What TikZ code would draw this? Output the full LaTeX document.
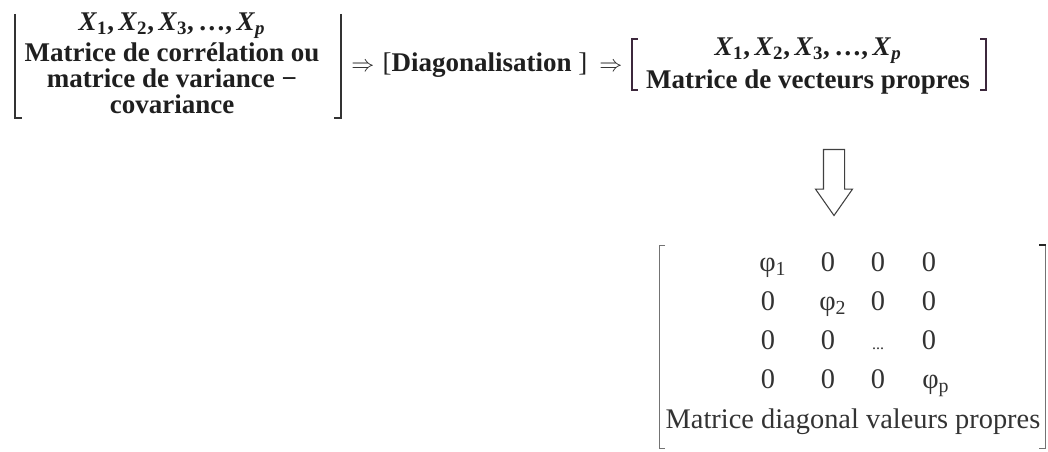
\documentclass[tikz,border=0pt]{standalone}
\usepackage{fontspec}
\setmainfont{Liberation Serif}
\usetikzlibrary{shapes.arrows}
\definecolor{brkcol}{RGB}{60,40,60}
\newcommand\xv[1]{\textit{X}\textsubscript{#1}}
\newcommand\xline{\xv{1},\,\xv{2},\,\xv{3},\,\dots,\,\xv{\itshape p}}
\begin{document}
\begin{tikzpicture}[x=0.75pt,y=-0.75pt,
  txt/.style={font=\fontsize{20.25}{19.5}\selectfont\bfseries, text=black!88, inner sep=0pt, align=center},
  op/.style={font=\fontsize{16}{16}\selectfont, text=black!85, inner sep=0pt},
  mtx/.style={font=\fontsize{21.3}{24}\selectfont, text=black!80, inner sep=0pt, anchor=base},
  phi/.style={font=\fontsize{21.3}{24}\selectfont, text=black!80, inner sep=0pt, anchor=base west},
  brk/.style={draw=black!80, line width=0.9pt},
  lbrk/.style={draw=black!55, line width=0.7pt},
  hollow/.style={draw=black!75, line width=0.8pt, fill=white, single arrow,
     minimum height=49.5pt, minimum width=27pt, inner sep=7.5pt,
     single arrow head extend=6pt, single arrow tip angle=70, shape border rotate=270}]
\useasboundingbox (0,0) rectangle (1048,452);

% ---- left group
\node[txt] (L) at (172,63) {\xline\\[2pt]
  Matrice de corrélation ou\\ matrice de variance −\\ covariance};
\draw[brk] (15,14) -- (15,118) -- (22,118);
\draw[brk] (341,14) -- (341,118) -- (334,118);

% ---- operators
\node[op] (a1) at (363,67) {$\Rightarrow$};
\node[txt, anchor=center] (D) at (485,65) {{\mdseries[}Diagonalisation {\mdseries]}};
\node[op] (a2) at (611,67) {$\Rightarrow$};

% ---- right group
\node[txt] (R) at (808,66) {\xline\\[4pt]
  Matrice de vecteurs propres};
\draw[brk, draw=brkcol] (638,39) -- (632,39) -- (632,90) -- (638,90);
\draw[brk, draw=brkcol] (980,39) -- (986,39) -- (986,90) -- (980,90);

% ---- hollow arrow
\node[hollow] (down) at (834,175) {};

% ---- diagonal matrix
\draw[lbrk] (665,245) -- (659,245) -- (659,448) -- (665,448);
\draw[lbrk] (1039,245) -- (1045,245) -- (1045,448) -- (1039,448);
\draw[draw=black!85, line width=1.6pt] (1039,245) -- (1046,245);

\node[phi] (m11) at (759,271) {φ\textsubscript{1}};
\node[mtx] (m12) at (828,271) {0};
\node[mtx] (m13) at (878,271) {0};
\node[mtx] (m14) at (929,271) {0};

\node[mtx] (m21) at (768,310) {0};
\node[phi] (m22) at (819,310) {φ\textsubscript{2}};
\node[mtx] (m23) at (878,310) {0};
\node[mtx] (m24) at (929,310) {0};

\node[mtx] (m31) at (768,349) {0};
\node[mtx] (m32) at (828,349) {0};
\node[mtx] (m33) at (878,349) {\fontsize{12}{12}\selectfont ...};
\node[mtx] (m34) at (929,349) {0};

\node[mtx] (m41) at (768,388) {0};
\node[mtx] (m42) at (828,388) {0};
\node[mtx] (m43) at (878,388) {0};
\node[phi] (m44) at (922,388) {φ\textsubscript{p}};

\node[mtx] (lab) at (853,428) {Matrice diagonal valeurs propres};
\end{tikzpicture}
\end{document}
